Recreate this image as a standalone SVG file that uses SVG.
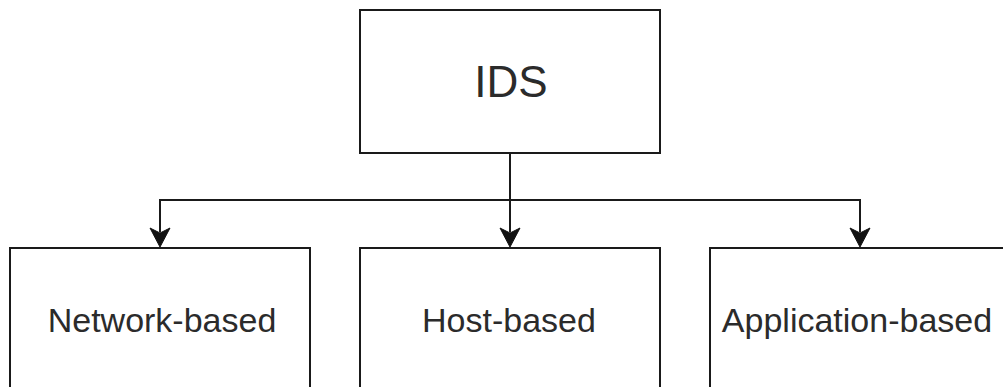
<svg xmlns="http://www.w3.org/2000/svg" width="1003" height="387" viewBox="0 0 1003 387">
  <style>
    .box { fill: #ffffff; stroke: #1a1a1a; stroke-width: 2; }
    .edge { fill: none; stroke: #1a1a1a; stroke-width: 2; }
    .head { fill: #111111; stroke: #111111; stroke-width: 1; stroke-linejoin: miter; }
    .label { font-family: "Liberation Sans", Arial, sans-serif; fill: #2b2b2b; text-anchor: middle; }
  </style>
  <rect width="1003" height="387" fill="#ffffff"/>

  <g id="connectors">
    <path class="edge" d="M510 153 V232"/>
    <path class="edge" d="M160 232 V200 H860 V232"/>
    <polygon class="head" points="160,247 150,228 160,233 170,228"/>
    <polygon class="head" points="510,247 500,228 510,233 520,228"/>
    <polygon class="head" points="860,247 850,228 860,233 870,228"/>
  </g>

  <g id="ids">
    <rect class="box" x="360" y="10" width="300" height="143"/>
    <text class="label" x="511" y="97" font-size="44">IDS</text>
  </g>

  <g id="network-based">
    <rect class="box" x="10" y="248" width="300" height="150"/>
    <text class="label" x="162" y="332" font-size="34">Network-based</text>
  </g>

  <g id="host-based">
    <rect class="box" x="360" y="248" width="300" height="150"/>
    <text class="label" x="509" y="332" font-size="34">Host-based</text>
  </g>

  <g id="application-based">
    <rect class="box" x="710" y="248" width="300" height="150"/>
    <text class="label" x="857" y="332" font-size="34">Application-based</text>
  </g>
</svg>
